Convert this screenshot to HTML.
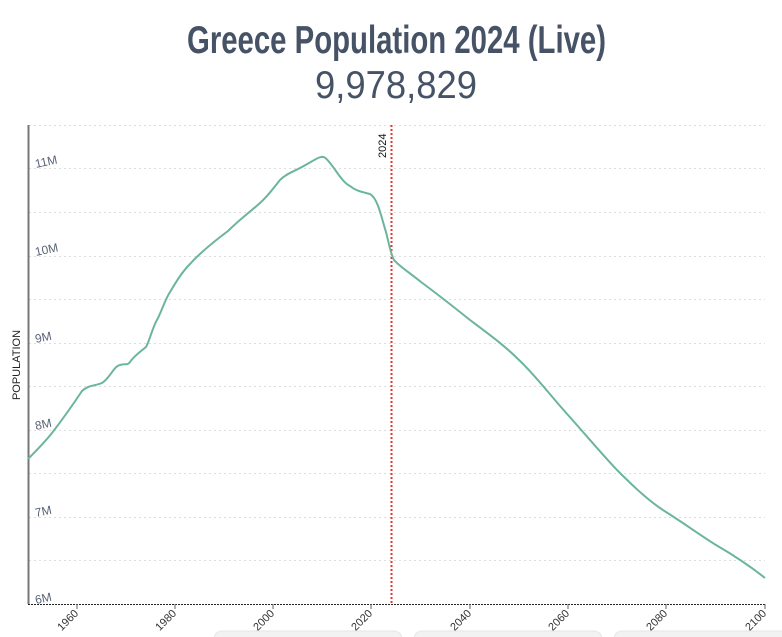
<!DOCTYPE html>
<html><head><meta charset="utf-8"><style>
html,body{margin:0;padding:0;background:#fff;width:782px;height:637px;overflow:hidden}
</style></head><body>
<svg width="782" height="637" viewBox="0 0 782 637" xmlns="http://www.w3.org/2000/svg" font-family="Liberation Sans, sans-serif">
<text x="187" y="53" font-size="39" font-weight="bold" fill="#465366" textLength="419" lengthAdjust="spacingAndGlyphs">Greece Population 2024 (Live)</text>
<text x="315" y="98" font-size="39" fill="#465366" textLength="162" lengthAdjust="spacingAndGlyphs">9,978,829</text>
<g stroke="#ddd" stroke-dasharray="2,3" stroke-width="1">
<line x1="29" x2="765" y1="125.5" y2="125.5"/><line x1="29" x2="765" y1="168.5" y2="168.5"/>
<line x1="29" x2="765" y1="212.5" y2="212.5"/><line x1="29" x2="765" y1="256.5" y2="256.5"/>
<line x1="29" x2="765" y1="299.5" y2="299.5"/><line x1="29" x2="765" y1="343.5" y2="343.5"/>
<line x1="29" x2="765" y1="386.5" y2="386.5"/><line x1="29" x2="765" y1="430.5" y2="430.5"/>
<line x1="29" x2="765" y1="473.5" y2="473.5"/><line x1="29" x2="765" y1="517.5" y2="517.5"/>
<line x1="29" x2="765" y1="560.5" y2="560.5"/>
</g>
<line x1="28.5" y1="125" x2="28.5" y2="604" stroke="#777" stroke-width="2"/>
<line x1="28" y1="604.5" x2="765" y2="604.5" stroke="#222" stroke-width="1" stroke-dasharray="2,1"/>
<g fill="#5a6478" font-size="12">
<text x="36" y="168" transform="rotate(-12 36 168)">11M</text>
<text x="36" y="256" transform="rotate(-12 36 256)">10M</text>
<text x="36" y="343" transform="rotate(-12 36 343)">9M</text>
<text x="36" y="430" transform="rotate(-12 36 430)">8M</text>
<text x="36" y="517" transform="rotate(-12 36 517)">7M</text>
<text x="36" y="604" transform="rotate(-12 36 604)">6M</text>
</g>
<g stroke="#666"><line x1="77" x2="77" y1="604" y2="609"/><line x1="175" x2="175" y1="604" y2="609"/><line x1="273" x2="273" y1="604" y2="609"/><line x1="371" x2="371" y1="604" y2="609"/><line x1="470" x2="470" y1="604" y2="609"/><line x1="568" x2="568" y1="604" y2="609"/><line x1="666" x2="666" y1="604" y2="609"/><line x1="765" x2="765" y1="604" y2="609"/></g>
<g fill="#333" font-size="11" text-anchor="end">
<text x="79" y="614" transform="rotate(-45 79 614)">1960</text>
<text x="177" y="614" transform="rotate(-45 177 614)">1980</text>
<text x="275" y="614" transform="rotate(-45 275 614)">2000</text>
<text x="373" y="614" transform="rotate(-45 373 614)">2020</text>
<text x="472" y="614" transform="rotate(-45 472 614)">2040</text>
<text x="570" y="614" transform="rotate(-45 570 614)">2060</text>
<text x="668" y="614" transform="rotate(-45 668 614)">2080</text>
<text x="767" y="614" transform="rotate(-45 767 614)">2100</text>
</g>
<text x="20" y="365" font-size="11" fill="#222" text-anchor="middle" transform="rotate(-90 20 365)">POPULATION</text>
<line x1="391.5" y1="125" x2="391.5" y2="604" stroke="#e33" stroke-width="2" stroke-dasharray="2,2"/>
<text x="386" y="158" font-size="11" fill="#111" transform="rotate(-90 386 158)">2024</text>
<path d="M28,459 C40,447 48,438 52,433 C62,420 72,406 82,391 C88,385 95,386 102,383 C110,378 114,366 120,365 C126,363 127,366 130,362 C134,356 140,352 146,347 C150,340 152,328 158,318 C162,310 165,300 170,292 C176,282 182,272 190,264 C198,255 208,246 228,231 C240,219 250,212 260,203 C268,196 272,190 280,180 C285,175 290,173 298,169 C306,165 312,161 318,158 C324,155 326,158 330,163 C336,170 342,182 350,186 C356,191 362,192 370,194 C378,198 382,220 386,232 C389,244 391,255 394,260 C399,266 410,273 421,282 C440,296 455,308 470,320 C490,335 505,346 519,360 C535,375 550,395 568,415 C585,434 600,452 617,470 C635,488 650,502 666,512 C685,524 700,535 716,545 C735,556 750,566 765,578" fill="none" stroke="#6bb59d" stroke-width="2"/>
<g fill="#f2f2f2" stroke="#e6e6e6"><rect x="214" y="631" width="188" height="20" rx="8"/><rect x="414" y="631" width="188" height="20" rx="8"/><rect x="614" y="631" width="188" height="20" rx="8"/></g>
</svg>
</body></html>
